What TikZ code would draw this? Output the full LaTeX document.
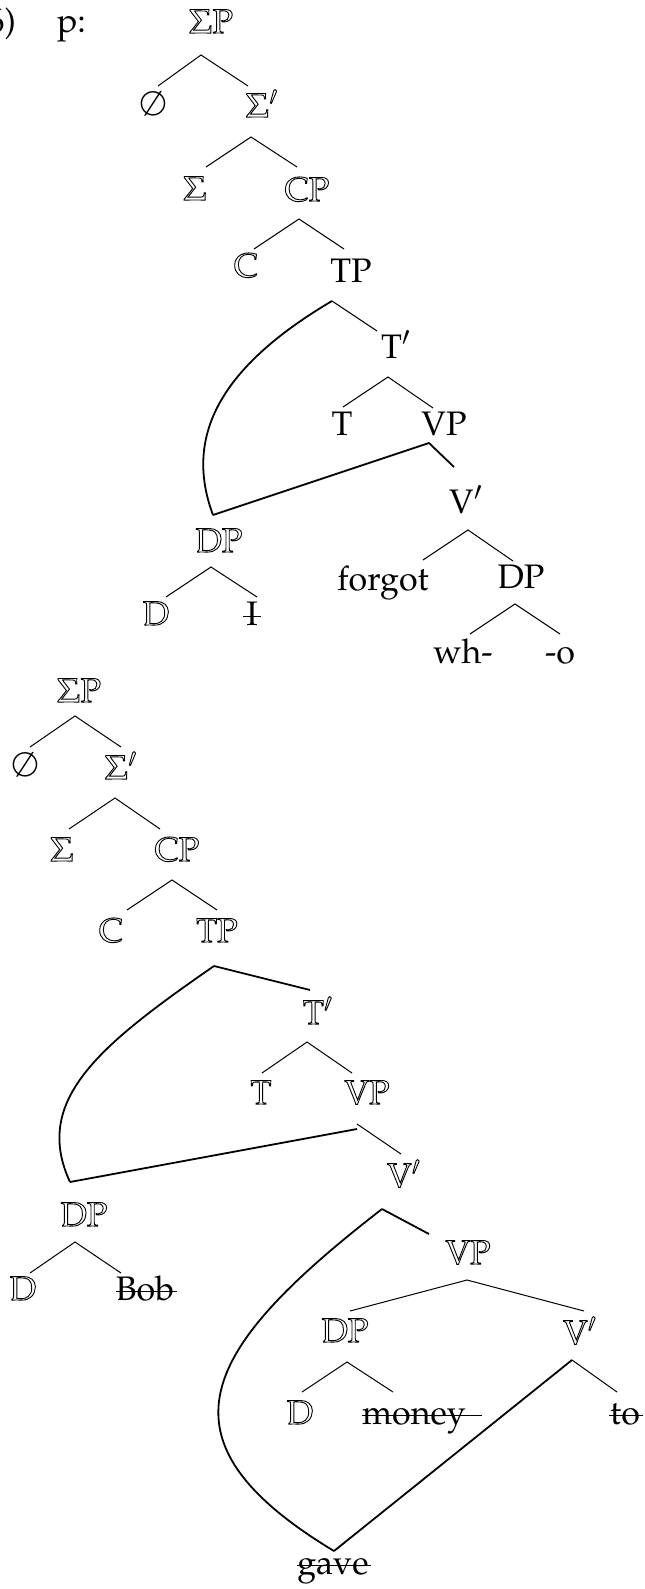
\documentclass[tikz,border=0pt]{standalone}
\usepackage[T1]{fontenc}
\usepackage{mathpazo}
\newsavebox\strkbox
\newcommand\olt[1]{\special{pdf:literal direct 1 Tr 0.45 w}#1\special{pdf:literal direct 0 Tr}}
\newcommand\strk[3]{\sbox\strkbox{#3}\rlap{\hskip-#1\rule[0.48ex]{\dimexpr\wd\strkbox+#1+#2\relax}{0.9pt}}\usebox\strkbox}
\tikzset{
  lbl/.style={anchor=base, inner sep=0pt, outer sep=0pt, font=\fontsize{17}{20}\selectfont},
  br/.style={line width=0.5pt},
  mv/.style={line width=0.9pt}
}
\begin{document}
\begin{tikzpicture}[x=0.5pt,y=-0.5pt]
\useasboundingbox (0,0) rectangle (644,1589);
% ---------- first tree ----------
\node[lbl, anchor=base east] (n6) at (16,33) {(6)};
\node[lbl, anchor=base west] (np) at (57,33) {p:};
\node[lbl] (aSP) at (211,33) {\olt{$\Sigma$P}};
\node[lbl] (aE) at (153,116) {$\emptyset$};
\node[lbl] (aSb) at (262,117) {\olt{$\Sigma'$}};
\node[lbl] (aS) at (195,200) {\olt{$\Sigma$}};
\node[lbl] (aCP) at (307,201) {\olt{CP}};
\node[lbl] (aC) at (246,277) {\olt{C}};
\node[lbl] (aTP) at (351,282) {TP};
\node[lbl] (aTb) at (396,358) {T$'$};
\node[lbl] (aT) at (342,435) {T};
\node[lbl] (aVP) at (444,435) {VP};
\node[lbl] (aVb) at (466,513) {V$'$};
\node[lbl] (aDP) at (219,552) {\olt{DP}};
\node[lbl] (aD) at (156,625) {\olt{D}};
\node[lbl] (aI) at (252,625) {\strk{1.5pt}{1.5pt}{I}};
\node[lbl] (aforgot) at (383,590) {forgot};
\node[lbl] (aDP2) at (521,588) {DP};
\node[lbl] (awh) at (463,663) {wh-};
\node[lbl] (ao) at (560,663) {-o};
% branch points
\coordinate (a1) at (201,55);  \coordinate (a1l) at (158,86);  \coordinate (a1r) at (248,86);
\coordinate (a2) at (251,137); \coordinate (a2l) at (206,167); \coordinate (a2r) at (297,167);
\coordinate (a3) at (299,219); \coordinate (a3l) at (254,249); \coordinate (a3r) at (344,249);
\coordinate (a4) at (332,301); \coordinate (a4r) at (377,331);
\coordinate (a5) at (388,377); \coordinate (a5l) at (343,407); \coordinate (a5r) at (433,408);
\coordinate (a6) at (429,443); \coordinate (a6r) at (454,467);
\coordinate (a7) at (468,530); \coordinate (a7l) at (423,560); \coordinate (a7r) at (513,561);
\coordinate (a8) at (515,604); \coordinate (a8l) at (470,634); \coordinate (a8r) at (560,634);
\coordinate (a9) at (211,567); \coordinate (a9l) at (166,597); \coordinate (a9r) at (257,597);
\coordinate (am) at (213,515);
\draw[br] (a1l) -- (a1) -- (a1r);
\draw[br] (a2l) -- (a2) -- (a2r);
\draw[br] (a3l) -- (a3) -- (a3r);
\draw[br] (a4) -- (a4r);
\draw[br] (a5l) -- (a5) -- (a5r);
\draw[mv] (a6) -- (a6r);
\draw[br] (a7l) -- (a7) -- (a7r);
\draw[br] (a8l) -- (a8) -- (a8r);
\draw[br] (a9l) -- (a9) -- (a9r);
\draw[mv] (a4) .. controls (215,370) and (185,440) .. (am);
\draw[mv] (a6) -- (am);
% ---------- second tree ----------
\node[lbl] (bSP) at (79,702) {\olt{$\Sigma$P}};
\node[lbl] (bE) at (25,776) {$\emptyset$};
\node[lbl] (bSb) at (121,779) {\olt{$\Sigma'$}};
\node[lbl] (bS) at (62,861) {\olt{$\Sigma$}};
\node[lbl] (bCP) at (177,861) {\olt{CP}};
\node[lbl] (bC) at (111,942) {\olt{C}};
\node[lbl] (bTP) at (217,942) {\olt{TP}};
\node[lbl] (bTb) at (318,1024) {\olt{T$'$}};
\node[lbl] (bT) at (261,1104) {\olt{T}};
\node[lbl] (bVP) at (367,1104) {\olt{VP}};
\node[lbl] (bVb) at (404,1187) {\olt{V$'$}};
\node[lbl] (bDP) at (84,1226) {\olt{DP}};
\node[lbl] (bD) at (23,1300) {\olt{D}};
\node[lbl] (bBob) at (145,1300) {\strk{0pt}{1.5pt}{Bob}};
\node[lbl] (bVP2) at (468,1264) {\olt{VP}};
\node[lbl] (bDP2) at (345,1342) {\olt{DP}};
\node[lbl] (bVb2) at (580,1344) {\olt{V$'$}};
\node[lbl] (bD2) at (300,1424) {\olt{D}};
\node[lbl] (bmoney) at (414,1424) {\strk{0pt}{8pt}{money}};
\node[lbl] (bto) at (625,1424) {\strk{0.5pt}{1.5pt}{to}};
\node[lbl] (bgave) at (333,1574) {\strk{0pt}{1pt}{gave}};
\coordinate (b1) at (75,716);   \coordinate (b1l) at (30,747);   \coordinate (b1r) at (121,747);
\coordinate (b2) at (115,798);  \coordinate (b2l) at (69,829);   \coordinate (b2r) at (160,829);
\coordinate (b3) at (172,880);  \coordinate (b3l) at (127,910);  \coordinate (b3r) at (217,910);
\coordinate (b4) at (214,966);  \coordinate (b4r) at (310,990);
\coordinate (b5) at (307,1042); \coordinate (b5l) at (262,1073); \coordinate (b5r) at (352,1073);
\coordinate (b6) at (357,1124); \coordinate (b6r) at (401,1154); \coordinate (b6s) at (357,1129);
\coordinate (b7) at (382,1209); \coordinate (b7r) at (429,1234);
\coordinate (b8) at (467,1280); \coordinate (b8l) at (350,1311); \coordinate (b8r) at (584,1311);
\coordinate (b9) at (347,1362); \coordinate (b9l) at (302,1392); \coordinate (b9r) at (393,1392);
\coordinate (b10) at (572,1360); \coordinate (b10r) at (617,1392);
\coordinate (b11) at (75,1242); \coordinate (b11l) at (30,1273); \coordinate (b11r) at (121,1273);
\coordinate (bm1) at (70,1182);
\coordinate (bm2) at (334,1551);
\draw[br] (b1l) -- (b1) -- (b1r);
\draw[br] (b2l) -- (b2) -- (b2r);
\draw[br] (b3l) -- (b3) -- (b3r);
\draw[mv] (b4) -- (b4r);
\draw[br] (b5l) -- (b5) -- (b5r);
\draw[br] (b6) -- (b6r);
\draw[mv] (b7) -- (b7r);
\draw[br] (b8l) -- (b8) -- (b8r);
\draw[br] (b9l) -- (b9) -- (b9r);
\draw[br] (b10) -- (b10r);
\draw[br] (b11l) -- (b11) -- (b11r);
\draw[mv] (b4) .. controls (100,1045) and (32,1100) .. (bm1);
\draw[mv] (b6s) -- (bm1);
\draw[mv] (b7) .. controls (200,1350) and (150,1440) .. (bm2);
\draw[mv] (b10) -- (bm2);
\end{tikzpicture}
\end{document}
